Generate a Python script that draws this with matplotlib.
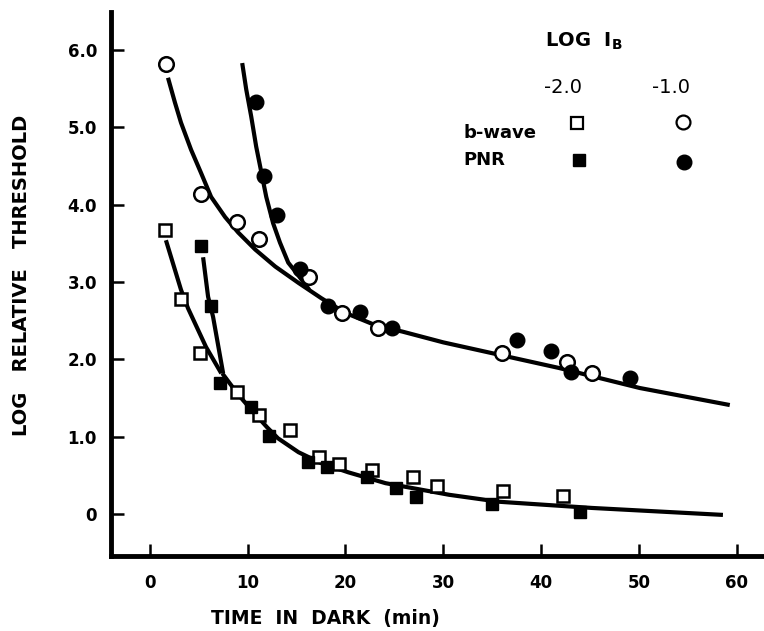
import numpy as np
import matplotlib
matplotlib.use("Agg")
import matplotlib.pyplot as plt

# b-wave, log Ib = -1.0 (open circles)
bw1_x = [1.6, 5.2, 8.9, 11.2, 16.3, 19.6, 23.3, 36.0, 42.7, 45.2]
bw1_y = [5.82, 4.14, 3.78, 3.56, 3.07, 2.60, 2.41, 2.08, 1.97, 1.82]
# PNR, log Ib = -1.0 (filled circles)
pnr1_x = [10.8, 11.7, 13.0, 15.3, 18.2, 21.5, 24.8, 37.5, 41.0, 43.1, 49.1]
pnr1_y = [5.33, 4.37, 3.87, 3.17, 2.69, 2.61, 2.41, 2.25, 2.11, 1.84, 1.76]
# b-wave, log Ib = -2.0 (open squares)
bw2_x = [1.5, 3.2, 5.1, 8.9, 11.2, 14.3, 17.3, 19.3, 22.7, 26.9, 29.4, 36.1, 42.2]
bw2_y = [3.67, 2.78, 2.08, 1.58, 1.28, 1.09, 0.74, 0.65, 0.57, 0.48, 0.36, 0.30, 0.23]
# PNR, log Ib = -2.0 (filled squares)
pnr2_x = [5.2, 6.2, 7.2, 10.3, 12.2, 16.2, 18.1, 22.2, 25.2, 27.2, 35.0, 44.0]
pnr2_y = [3.47, 2.69, 1.69, 1.38, 1.01, 0.67, 0.61, 0.48, 0.34, 0.22, 0.13, 0.03]

# hand-fitted curves
c1_x = [1.85, 2.56, 3.18, 4.21, 5.23, 6.26, 7.69, 9.03, 10.77, 12.82, 15.18, 17.54,
        20.0, 23.3, 25.8, 30.0, 35.0, 41.8, 50.1, 59.3]
c1_y = [5.64, 5.32, 5.06, 4.71, 4.41, 4.10, 3.84, 3.64, 3.42, 3.20, 2.99, 2.79,
        2.60, 2.43, 2.36, 2.22, 2.08, 1.89, 1.63, 1.41]
c2_x = [9.44, 9.85, 10.36, 10.87, 11.9, 12.6, 13.3, 14.15, 14.97, 16.3]
c2_y = [5.83, 5.49, 5.14, 4.75, 4.10, 3.76, 3.51, 3.25, 3.12, 2.90]
c3_x = [1.64, 3.18, 3.9, 5.74, 7.3]
c3_y = [3.54, 2.90, 2.66, 2.16, 1.82]
c4_x = [5.44, 5.95, 6.46, 7.49]
c4_y = [3.32, 2.81, 2.55, 1.82]
c5_x = [7.4, 9.0, 10.5, 12.0, 13.1, 15.2, 17.5, 20.3, 24.1, 30.6, 35.7, 45.2, 58.6]
c5_y = [1.82, 1.55, 1.33, 1.12, 0.98, 0.80, 0.66, 0.54, 0.40, 0.25, 0.16, 0.08, -0.01]

xticks = [0, 10, 20, 30, 40, 50, 60]
yticks = [0, 1, 2, 3, 4, 5, 6]
ylabels = ["0", "1.0", "2.0", "3.0", "4.0", "5.0", "6.0"]

plt.rcParams["font.family"] = "DejaVu Sans"
fig = plt.figure(figsize=(7.64, 6.31), dpi=100)
ax = fig.add_axes([0.145, 0.119, 0.855, 0.862])

for cx, cy in [(c1_x, c1_y), (c2_x, c2_y), (c3_x, c3_y), (c4_x, c4_y), (c5_x, c5_y)]:
    ax.plot(cx, cy, color="black", lw=3, solid_capstyle="butt",
            solid_joinstyle="round", zorder=2)

ms_c = 10.5
ms_s = 9
ax.plot(bw1_x, bw1_y, "o", ms=ms_c, mfc="white", mec="black", mew=1.8, zorder=3)
ax.plot(pnr1_x, pnr1_y, "o", ms=ms_c, mfc="black", mec="black", zorder=3)
ax.plot(bw2_x, bw2_y, "s", ms=ms_s, mfc="white", mec="black", mew=1.8, zorder=3)
ax.plot(pnr2_x, pnr2_y, "s", ms=ms_s, mfc="black", mec="black", zorder=3)

# key
ax.text(44.4, 6.11, r"LOG  $\mathregular{I_B}$", ha="center", va="center", fontsize=14, weight="bold")
ax.text(42.2, 5.51, "-2.0", ha="center", va="center", fontsize=14)
ax.text(53.3, 5.51, "-1.0", ha="center", va="center", fontsize=14)
ax.text(32.1, 4.93, "b-wave", ha="left", va="center", fontsize=13, weight="bold")
ax.text(32.1, 4.58, "PNR", ha="left", va="center", fontsize=13, weight="bold")
ax.plot([43.7], [5.05], "s", ms=8, mfc="white", mec="black", mew=1.6)
ax.plot([54.5], [5.07], "o", ms=10, mfc="white", mec="black", mew=1.6)
ax.plot([43.9], [4.58], "s", ms=8, mfc="black", mec="black")
ax.plot([54.6], [4.55], "o", ms=10.5, mfc="black", mec="black")

ax.set_xlim(-4, 62.8)
ax.set_ylim(-0.54, 6.49)
ax.set_xticks(xticks)
ax.set_xticklabels([str(t) for t in xticks])
ax.set_yticks(yticks)
ax.set_yticklabels(ylabels)
ax.tick_params(direction="in", length=9, width=1.8, labelsize=12)
for lab in ax.get_xticklabels() + ax.get_yticklabels():
    lab.set_fontweight("bold")
ax.tick_params(axis="x", pad=13)
ax.tick_params(axis="y", pad=10)

for s in ["top", "right"]:
    ax.spines[s].set_visible(False)
for s in ["left", "bottom"]:
    ax.spines[s].set_linewidth(3.5)

ax.set_xlabel("TIME  IN  DARK  (min)", fontsize=13.5, weight="bold")
ax.xaxis.set_label_coords(0.328, -0.098)
ax.set_ylabel("LOG   RELATIVE   THRESHOLD", fontsize=14, weight="bold")
ax.yaxis.set_label_coords(-0.122, 0.515)

fig.savefig("out.png", dpi=100)
